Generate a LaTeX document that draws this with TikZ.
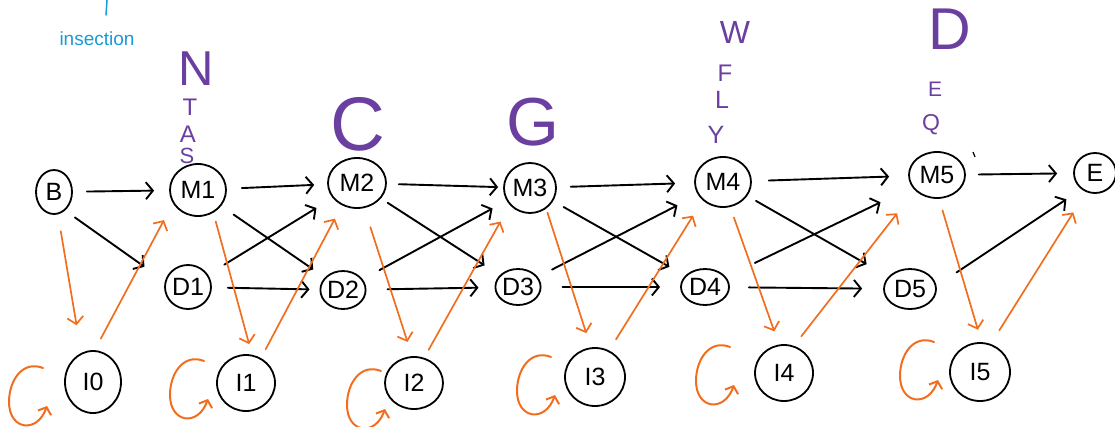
\documentclass[tikz,border=0pt]{standalone}
\usepackage{fontspec}
\setmainfont{Liberation Sans}
\usetikzlibrary{shapes.geometric,arrows.meta,calc}
\definecolor{hmmpurple}{HTML}{6B3FA0}
\definecolor{hmmorange}{HTML}{F26E1F}
\definecolor{hmmblue}{HTML}{1A9AD6}
\newcommand{\fsz}[1]{\fontsize{#1}{#1}\selectfont}
\begin{document}
\begin{tikzpicture}[x=1pt,y=-1pt,
  st/.style={ellipse,draw,line width=1.8pt,inner sep=0pt,font=\fsz{25}},
  blk/.style={line width=1.9pt,line cap=round,line join=round,-{Straight Barb[length=7pt,width=17pt]}},
  org/.style={hmmorange,line width=1.7pt,line cap=round,line join=round,-{Straight Barb[length=7pt,width=16pt]}},
  gl/.style={hmmorange,line width=2pt,line cap=round,line join=round,-{Straight Barb[length=6pt,width=14pt]}},
  emit/.style={hmmpurple,inner sep=0pt}
]
\useasboundingbox (0,0) rectangle (1115,426);

% states
\node[st,minimum width=36pt,minimum height=44pt] (B) at (54,192) {B};
\node[st,minimum width=56pt,minimum height=52pt] (M1) at (198,190) {M1};
\node[st,minimum width=58pt,minimum height=50pt] (M2) at (357,183) {M2};
\node[st,minimum width=52pt,minimum height=50pt] (M3) at (530,188) {M3};
\node[st,minimum width=56pt,minimum height=50pt] (M4) at (723,182) {M4};
\node[st,minimum width=56pt,minimum height=46pt] (M5) at (937,175) {M5};
\node[st,minimum width=42pt,minimum height=40pt] (E) at (1095,173) {E};
\node[st,minimum width=46pt,minimum height=44pt] (D1) at (188,287) {D1};
\node[st,minimum width=44pt,minimum height=38pt] (D2) at (343,290) {D2};
\node[st,minimum width=44pt,minimum height=36pt] (D3) at (518,287) {D3};
\node[st,minimum width=48pt,minimum height=36pt] (D4) at (705,287) {D4};
\node[st,minimum width=52pt,minimum height=40pt] (D5) at (910,289) {D5};
\node[st,minimum width=56pt,minimum height=62pt] (I0) at (93,382) {I0};
\node[st,minimum width=58pt,minimum height=56pt] (I1) at (246,383) {I1};
\node[st,minimum width=58pt,minimum height=52pt] (I2) at (414,383) {I2};
\node[st,minimum width=60pt,minimum height=58pt] (I3) at (595,377) {I3};
\node[st,minimum width=58pt,minimum height=56pt] (I4) at (784,373) {I4};
\node[st,minimum width=60pt,minimum height=58pt] (I5) at (980,372) {I5};

% black transitions
\draw[blk,shorten <=14pt,shorten >=15pt] (B) -- (M1);
\draw[blk,shorten <=12pt,shorten >=25pt] (B.301) -- (D1.166);
\draw[blk,shorten <=15pt,shorten >=13pt] (M1) -- (M2);
\draw[blk,shorten <=15pt,shorten >=14pt] (M1) -- (D2);
\draw[blk,shorten <=19pt,shorten >=19pt] (D1) -- (M2);
\draw[blk,shorten <=16pt,shorten >=10pt] (D1) -- (D2);
\draw[blk,shorten <=12pt,shorten >=5pt] (M2) -- (M3);
\draw[blk,shorten <=8pt,shorten >=18pt] (M2) -- (D3);
\draw[blk,shorten <=19pt,shorten >=16pt] (D2) -- (M3);
\draw[blk,shorten <=21pt,shorten >=16pt] (D2) -- (D3);
\draw[blk,shorten <=14pt,shorten >=19pt] (M3) -- (M4);
\draw[blk,shorten <=12pt,shorten >=18pt] (M3) -- (D4);
\draw[blk,shorten <=16pt,shorten >=23pt] (D3) -- (M4);
\draw[blk,shorten <=21pt,shorten >=20pt] (D3) -- (D4);
\draw[blk,shorten <=17pt,shorten >=19pt] (M4) -- (M5);
\draw[blk,shorten <=10pt,shorten >=25pt] (M4) -- (D5);
\draw[blk,shorten <=32pt,shorten >=35pt] (D4) -- (M5);
\draw[blk,shorten <=19pt,shorten >=21pt] (D4) -- (D5);
\draw[blk,shorten <=13pt,shorten >=16pt] (M5) -- (E);
\draw[blk,shorten <=24pt,shorten >=18pt] (D5.7) -- (E.230);

% orange (insert) transitions
\draw[org,shorten <=17pt,shorten >=28pt] (B.280) -- (I0.112);
\draw[org,shorten <=13pt,shorten >=19pt] (I0.87) -- (M1.208);
\draw[org,shorten <=9pt,shorten >=11pt] (M1.304) -- (I1.78);
\draw[org,shorten <=10pt,shorten >=15pt] (I1.59) -- (M2.236);
\draw[org,shorten <=20pt,shorten >=15pt] (M2.286) -- (I2.94);
\draw[org,shorten <=9pt,shorten >=19pt] (I2.68) -- (M3.220);
\draw[org,shorten <=4pt,shorten >=15pt] (M3.308) -- (I3.98);
\draw[org,shorten <=13pt,shorten >=18pt] (I3.62) -- (M4.222);
\draw[org,shorten <=11pt,shorten >=14pt] (M4.286) -- (I4.100);
\draw[org,shorten <=12pt,shorten >=29pt] (I4.70) -- (M5.215);
\draw[org,shorten <=12pt,shorten >=13pt] (M5.275) -- (I5.87);
\draw[org,shorten <=16pt,shorten >=24pt] (I5.69) -- (E.245);

% self loops of insert states
\foreach \n/\dx/\dy in {I0/-46/24, I1/-38/16, I2/-29/26, I3/-40/18, I4/-50/12, I5/-42/8}{
  \begin{scope}[shift={($(\n)+(\dx,\dy)$)}]
    \draw[gl] (-4,-38) .. controls (-24,-46) and (-38,-26) .. (-38,-4)
              .. controls (-38,24) and (-10,28) .. (0,0);
  \end{scope}
}

% emissions
\node[emit,font=\fsz{49}] (eN) at (196,69) {N};
\node[emit,font=\fsz{24}] (eT) at (190,107) {T};
\node[emit,font=\fsz{24}] (eA) at (188,134) {A};
\node[emit,font=\fsz{22}] (eS) at (187,156) {S};
\node[emit,font=\fsz{76}] (eC) at (358,124) {C};
\node[emit,font=\fsz{68}] (eG) at (533,122) {G};
\node[emit,font=\fsz{32}] (eW) at (735,32) {W};
\node[emit,font=\fsz{24}] (eF) at (725,73) {F};
\node[emit,font=\fsz{25}] (eL) at (722,100) {L};
\node[emit,font=\fsz{25}] (eY) at (716,135) {Y};
\node[emit,font=\fsz{59}] (eD) at (950,29) {D};
\node[emit,font=\fsz{21}] (eE) at (935,89) {E};
\node[emit,font=\fsz{23}] (eQ) at (931,125) {Q};
\draw[line width=1.2pt] (973,152) -- (975,157);

% note
\draw[hmmblue,line width=1.5pt,line cap=round] (107,0) -- (106,15);
\node[hmmblue,font=\fsz{19},anchor=base,inner sep=0pt] (ins) at (97,45) {insection};
\end{tikzpicture}
\end{document}
